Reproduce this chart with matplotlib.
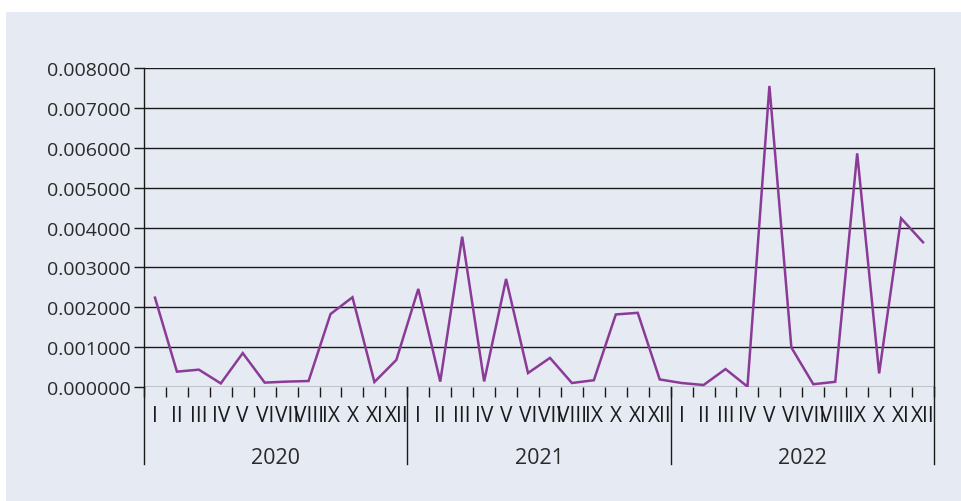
import matplotlib
matplotlib.use("Agg")
import matplotlib.pyplot as plt
from matplotlib.patches import Rectangle
from matplotlib.lines import Line2D
import matplotlib.transforms as mtransforms
import numpy as np

years = ["2020", "2021", "2022"]
months = ["I", "II", "III", "IV", "V", "VI", "VII", "VIII", "IX", "X", "XI", "XII"]
values_2020 = [0.00224, 0.000385, 0.000435, 0.00009, 0.00085, 0.00011, 0.000135, 0.00015, 0.00183, 0.00225, 0.000125, 0.00068]
values_2021 = [0.00246, 0.000135, 0.00377, 0.00014, 0.00271, 0.00035, 0.00073, 0.0001, 0.00017, 0.00182, 0.00186, 0.00019]
values_2022 = [0.0001, 0.00005, 0.00045, 0.00001, 0.00755, 0.00099, 0.00007, 0.00013, 0.00586, 0.00034, 0.00423, 0.00363]
yticks = [0.0, 0.001, 0.002, 0.003, 0.004, 0.005, 0.006, 0.007, 0.008]

plt.rcParams['font.family'] = ['Open Sans', 'DejaVu Sans']

W, H = 962, 502
fig = plt.figure(figsize=(W / 100, H / 100), dpi=100, facecolor='white')
bg = '#e6eaf2'
fig.patches.append(Rectangle((6 / W, 0), 1 - 6 / W, (H - 13) / H, transform=fig.transFigure,
                             facecolor=bg, edgecolor='none', zorder=-10))

left, right, top, bottom = 144, 934, 69, 388
ax = fig.add_axes([left / W, (H - bottom) / H, (right - left) / W, (bottom - top) / H])
ax.set_facecolor('none')
ax.patch.set_visible(False)

allvals = values_2020 + values_2021 + values_2022
n = len(allvals)
x = np.arange(n) + 0.5
ax.plot(x, allvals, color='#8a3b97', lw=1.8, zorder=3, solid_joinstyle='miter')

ax.set_xlim(0, n)
ax.set_ylim(0, 0.008)
ax.set_yticks(yticks)
ax.set_yticklabels([f"{v:.6f}" for v in yticks])
for yv in yticks:
    ax.axhline(yv, color='#1a1a1a', lw=1.0, zorder=1)

for s in ['top', 'bottom']:
    ax.spines[s].set_visible(False)
for s in ['left', 'right']:
    ax.spines[s].set_color('#1a1a1a')
    ax.spines[s].set_linewidth(1.0)

ax.tick_params(axis='y', length=7, width=1.0, color='#1a1a1a', labelsize=14, labelcolor='#2a2a2a', pad=2.5)

ax.set_xticks(x)
ax.set_xticklabels(months * len(years))
ax.tick_params(axis='x', which='major', length=0, labelsize=15, labelcolor='#1a1a1a', pad=13)
ax.set_xticks(np.arange(0, n + 1), minor=True)
ax.tick_params(axis='x', which='minor', length=7, width=1.0, color='#1a1a1a', direction='out')

trans = mtransforms.blended_transform_factory(ax.transData, ax.transAxes)
ph = bottom - top
for k in range(len(years) + 1):
    xv = k * 12
    ax.add_line(Line2D([xv, xv], [0, -(465 - bottom) / ph], transform=trans, color='#1a1a1a',
                       lw=1.0, clip_on=False))
for k, yr in enumerate(years):
    ax.text(k * 12 + 6, -(459 - bottom) / ph, yr, transform=trans, ha='center', va='center',
            fontsize=15.5, color='#2a2a2a')

fig.savefig('out.png', dpi=100, facecolor='white')
